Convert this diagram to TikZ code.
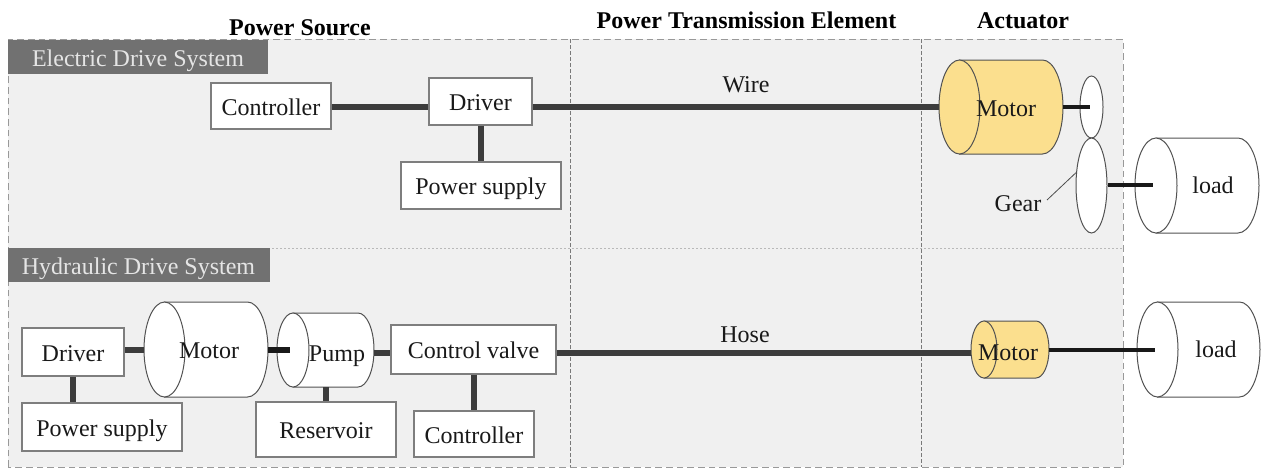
\documentclass[tikz,border=0pt]{standalone}
\usepackage{fontspec}
\setmainfont{Liberation Serif}
\usetikzlibrary{shapes.geometric}
\definecolor{panel}{HTML}{F0F0F0}
\definecolor{hdr}{HTML}{717171}
\definecolor{edgec}{HTML}{7E7E7E}
\definecolor{wirec}{HTML}{3C3C3C}
\definecolor{gold}{HTML}{FBDF8E}
\newcommand{\txtsize}{\fontsize{18}{20}\selectfont}
\tikzset{
  fixbase/.style={text height=14.2pt,text depth=0pt},
  boxn/.style={draw=edgec,fill=white,line width=0.8pt,inner sep=0pt,font=\txtsize,text=black!90,fixbase},
  hdrn/.style={fill=hdr,inner sep=0pt,font=\txtsize,text=white!90!black,fixbase},
  title/.style={font=\txtsize\bfseries,inner sep=0pt,text=black,fixbase},
  lbl/.style={font=\txtsize,inner sep=0pt,text=black!90,fixbase},
  wire/.style={draw=wirec,line width=4.4pt},
  shaft/.style={draw=black!90,line width=2.6pt},
  frame/.style={draw=gray!80,line width=0.7pt,dash pattern=on 5pt off 3pt},
  inner/.style={draw=gray!95!black,line width=0.6pt,dash pattern=on 3pt off 1.5pt},
  divider/.style={draw=gray!55,line width=0.5pt,dash pattern=on 1.5pt off 1.5pt},
  cyl/.style={draw=black!68,line width=0.75pt},
  gearn/.style={ellipse,draw=black!68,fill=white,line width=0.75pt,inner sep=0pt},
}
% \bx{name}{x1}{y1}{x2}{y2}{text}
\newcommand{\bx}[6]{%
  \pgfmathsetmacro{\bw}{(#4-#2)*0.75}\pgfmathsetmacro{\bh}{(#5-#3)*0.75}%
  \node[boxn,minimum width=\bw pt,minimum height=\bh pt] (#1) at ({(#2+#4)/2},{(#3+#5)/2}) {#6};}
% \cylinder{name}{x1}{y1}{x2}{y2}{ellipse width}{fill}
\newcommand{\cylinder}[7]{%
  \pgfmathsetmacro{\rx}{#6/2}\pgfmathsetmacro{\cxa}{#2+\rx}\pgfmathsetmacro{\cxb}{#4-\rx}%
  \pgfmathsetmacro{\ym}{(#3+#5)/2}\pgfmathsetmacro{\ry}{(#5-#3)/2}%
  \pgfmathsetmacro{\kx}{\cxb+0.5523*\rx}\pgfmathsetmacro{\kya}{\ym-0.5523*\ry}\pgfmathsetmacro{\kyb}{\ym+0.5523*\ry}%
  \path[cyl,fill=#7] (\cxa,#3) -- (\cxb,#3) .. controls (\kx,#3) and (#4,\kya) .. (#4,\ym)
     .. controls (#4,\kyb) and (\kx,#5) .. (\cxb,#5) -- (\cxa,#5) -- cycle;
  \draw[cyl,fill=#7] (\cxa,\ym) ellipse [x radius=\rx,y radius=\ry];
  \pgfmathsetmacro{\bw}{(#4-#2)*0.75}\pgfmathsetmacro{\bh}{(#5-#3)*0.75}%
  \node[inner sep=0pt,minimum width=\bw pt,minimum height=\bh pt] (#1) at ({(#2+#4)/2},\ym) {};}
\begin{document}
\begin{tikzpicture}[x=0.75pt,y=-0.75pt]
\useasboundingbox (0,0) rectangle (1261,468);
% panel
\fill[panel] (8,39) rectangle (1123,467);
\draw[frame] (8,467) -- (8,39) -- (1123,39) -- (1123,467) -- cycle;
\draw[inner] (570,39) -- (570,467);
\draw[inner] (921,39) -- (921,467);
\draw[divider] (8,248) -- (1123,248);
% headers
\node[hdrn,minimum width=195pt,minimum height=26pt] (hE) at (138,57) {Electric Drive System};
\node[hdrn,minimum width=196.5pt,minimum height=26pt] (hH) at (138.5,265) {Hydraulic Drive System};
% titles
\node[title] (tPS) at (300,26.5) {Power Source};
\node[title] (tPT) at (746.5,19.5) {Power Transmission Element};
\node[title] (tAC) at (1023,19.5) {Actuator};
% wire levels
\coordinate (w1) at (0,107);
\coordinate (w2) at (0,350);
\coordinate (w3) at (0,353);
\coordinate (g2) at (0,185);
% electric system
\bx{eCtrl}{211}{83}{331}{129}{Controller}
\bx{eDrv}{429}{78}{532}{125}{Driver}
\bx{ePS}{401}{162}{561}{209}{Power supply}
\cylinder{eMot}{939}{60}{1063}{154}{41}{gold}
\node[gearn,minimum width=17.25pt,minimum height=46.5pt] (gS) at (1091.5,107) {};
\node[gearn,minimum width=23.25pt,minimum height=71.25pt] (gB) at (1091.5,185.5) {};
\cylinder{eLoad}{1135}{138}{1259}{233}{42}{white}
\coordinate (gsEnd) at (1090,107);
\coordinate (glEnd) at (1153,185);
\coordinate (ldr) at (1047,200);
\draw[wire] (eCtrl.east |- w1) -- (eDrv.west |- w1);
\draw[wire] (eDrv.east |- w1) -- (eMot.west |- w1);
\draw[wire] (eDrv.south -| 481,0) -- (ePS.north -| 481,0);
\draw[shaft] (eMot.east |- w1) -- (gsEnd);
\draw[shaft] (gB.east |- g2) -- (glEnd);
\draw[draw=black!70,line width=0.6pt] (ldr) -- (gB.140);
\node[lbl] (lGear) at (1018,202.5) {Gear};
\node[lbl] (lMotE) at (1006,107.5) {Motor};
\node[lbl] (lLoadE) at (1213,184.5) {load};
\node[lbl] (lWire) at (746,83.5) {Wire};
% hydraulic system
\bx{hDrv}{22}{328}{124}{376}{Driver}
\bx{hPS}{22}{403}{182}{451}{Power supply}
\cylinder{hMot}{144}{302}{268}{397}{41}{white}
\cylinder{hPump}{277}{313}{374}{387}{32}{white}
\bx{hVal}{391}{325}{556}{374}{Control valve}
\bx{hRes}{256}{402}{396}{457}{Reservoir}
\bx{hCtrl}{414}{411}{534}{457}{Controller}
\cylinder{aMot}{971}{321}{1049}{378}{26}{gold}
\cylinder{aLoad}{1137}{302}{1260}{397}{41}{white}
\coordinate (mpEnd) at (290,350);
\coordinate (alEnd) at (1155,350);
\draw[wire] (hDrv.east |- w2) -- (hMot.west |- w2);
\draw[draw=black!90,line width=4.4pt] (hMot.east |- w2) -- (mpEnd);
\draw[wire] (hPump.east |- w3) -- (hVal.west |- w3);
\draw[wire] (hVal.east |- w3) -- (aMot.west |- w3);
\draw[wire] (hDrv.south) -- (hDrv.south |- hPS.north);
\draw[wire,line width=3.8pt] (hPump.south -| hRes.north) -- (hRes.north);
\draw[wire] (hVal.south -| hCtrl.north) -- (hCtrl.north);
\draw[shaft] (aMot.east |- w2) -- (alEnd);
\node[lbl] (lMotH) at (209,349.5) {Motor};
\node[lbl] (lPump) at (337,352.5) {Pump};
\node[lbl] (lMotA) at (1008,351.5) {Motor};
\node[lbl] (lLoadH) at (1216,348.5) {load};
\node[lbl] (lHose) at (745,333.5) {Hose};
\end{tikzpicture}
\end{document}
